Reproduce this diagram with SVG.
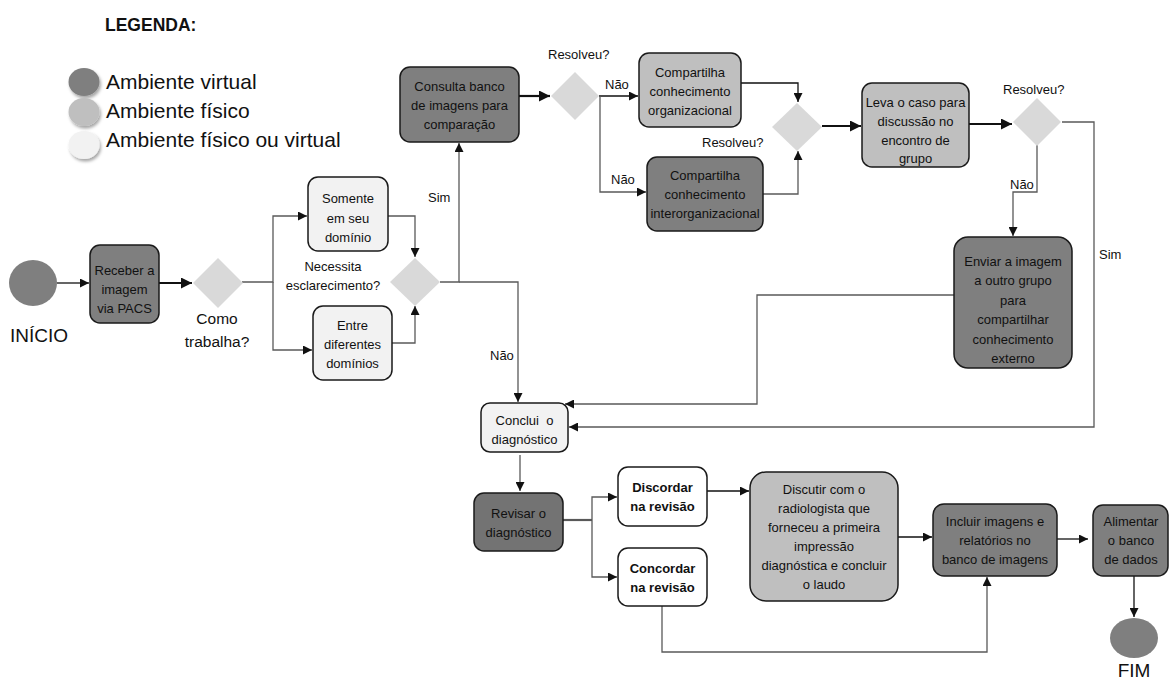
<svg xmlns="http://www.w3.org/2000/svg" width="1169" height="682" viewBox="0 0 1169 682">
<style>
text{font-family:"Liberation Sans",Arial,sans-serif;fill:#111;}
.t{font-size:13px;text-anchor:middle;}
.tb{font-size:13px;text-anchor:middle;font-weight:bold;}
.lab{font-size:13px;}
.leg{font-size:21px;}
.box{stroke:#1a1a1a;stroke-width:1.5;}
.dk{fill:#7f7f7f;}
.md{fill:#bfbfbf;}
.lt{fill:#f2f2f2;}
.wh{fill:#ffffff;}
.dia{fill:#d9d9d9;}
.c{fill:none;stroke:#595959;stroke-width:1.3;}
.cb{fill:none;stroke:#111;stroke-width:1.3;}
.ct{fill:none;stroke:#111;stroke-width:2.2;}
.cg{fill:none;stroke:#595959;stroke-width:2.2;}
</style>
<defs>
<marker id="ar" viewBox="0 0 10 10" refX="10" refY="5" markerWidth="9" markerHeight="9" markerUnits="userSpaceOnUse" orient="auto"><path d="M0,0 L10,5 L0,10 z" fill="#111"/></marker>
<marker id="arL" viewBox="0 0 10 10" refX="10" refY="5" markerWidth="11" markerHeight="11" markerUnits="userSpaceOnUse" orient="auto"><path d="M0,0 L10,5 L0,10 z" fill="#111"/></marker>
<filter id="sh" x="-30%" y="-30%" width="170%" height="170%"><feDropShadow dx="1.5" dy="2.5" stdDeviation="1.5" flood-color="#000" flood-opacity="0.35"/></filter>
</defs>

<g id="legend">
<text x="105" y="31" style="font-size:17.5px;font-weight:bold">LEGENDA:</text>
<ellipse cx="84" cy="82" rx="15.5" ry="14" fill="#7f7f7f" filter="url(#sh)"/>
<ellipse cx="84" cy="112" rx="15.5" ry="14" fill="#bfbfbf" filter="url(#sh)"/>
<ellipse cx="84" cy="145" rx="15.5" ry="14" fill="#f2f2f2" filter="url(#sh)"/>
<text class="leg" x="106" y="89">Ambiente virtual</text>
<text class="leg" x="106" y="118">Ambiente físico</text>
<text class="leg" x="106" y="147">Ambiente físico ou virtual</text>
</g>

<g id="connectors">
<path class="cb" d="M57,283 H89" marker-end="url(#ar)"/>
<path class="ct" d="M159,283 H192" marker-end="url(#arL)"/>
<path class="c" d="M242,282 H273 V216 H307" marker-end="url(#ar)"/>
<path class="c" d="M273,282 V350 H312" marker-end="url(#ar)"/>
<path class="c" d="M388,216 H415 V257" marker-end="url(#ar)"/>
<path class="c" d="M392,343 H415 V306" marker-end="url(#ar)"/>
<path class="c" d="M440,282 H459 V143" marker-end="url(#ar)"/>
<path class="c" d="M459,282 H518 V402" marker-end="url(#ar)"/>
<path class="ct" d="M519,96 H550" marker-end="url(#arL)"/>
<path class="cb" d="M599,96 H638" marker-end="url(#ar)"/>
<path class="c" d="M600,96 V192 H646" marker-end="url(#ar)"/>
<path class="cb" d="M741,83 H798 V102" marker-end="url(#ar)"/>
<path class="c" d="M763,194 H798 V151" marker-end="url(#ar)"/>
<path class="ct" d="M822,126 H861" marker-end="url(#arL)"/>
<path class="ct" d="M969,124 H1012" marker-end="url(#arL)"/>
<path class="c" d="M1037,145 V192 H1013 V236" marker-end="url(#ar)"/>
<path class="c" d="M1062,122 H1094 V427 H569" marker-end="url(#ar)"/>
<path class="c" d="M954,295 H757 V404 H565" marker-end="url(#ar)"/>
<path class="c" d="M520,455 V491" marker-end="url(#ar)"/>
<path class="cg" d="M563,520 H592"/>
<path class="c" d="M592,520 V497 H617" marker-end="url(#ar)"/>
<path class="c" d="M592,520 V577 H617" marker-end="url(#ar)"/>
<path class="cb" d="M707,491 H749" marker-end="url(#ar)"/>
<path class="c" d="M662,606 V652 H987 V577" marker-end="url(#ar)"/>
<path class="cb" d="M898,537 H932" marker-end="url(#ar)"/>
<path class="cb" d="M1057,539 H1088" marker-end="url(#ar)"/>
<path class="cb" d="M1134,576 V617" marker-end="url(#ar)"/>
<text class="lab" x="428" y="202">Sim</text>
<text class="lab" x="490" y="360">Não</text>
<text class="lab" x="605" y="89">Não</text>
<text class="lab" x="611" y="184">Não</text>
<text class="lab" x="1010" y="189">Não</text>
<text class="lab" x="1099" y="259">Sim</text>
</g>

<g id="inicio">
<ellipse cx="33" cy="283" rx="24" ry="23" fill="#7f7f7f"/>
<text x="10" y="342" style="font-size:19px">INÍCIO</text>
</g>

<g id="receber">
<rect class="box dk" x="90" y="245" width="69" height="78" rx="10"/>
<text class="t" x="124.5" y="275">Receber a</text>
<text class="t" x="124.5" y="294">imagem</text>
<text class="t" x="124.5" y="313">via PACS</text>
</g>

<g id="como-trabalha">
<polygon class="dia" points="218,258 243,283 218,308 193,283"/>
<text x="217" y="324" style="font-size:15.5px;text-anchor:middle">Como</text>
<text x="217" y="347" style="font-size:15.5px;text-anchor:middle">trabalha?</text>
</g>

<g id="somente">
<rect class="box lt" x="308" y="177" width="80" height="74" rx="10"/>
<text class="t" x="348" y="203">Somente</text>
<text class="t" x="348" y="223">em seu</text>
<text class="t" x="348" y="242">domínio</text>
</g>

<g id="entre">
<rect class="box lt" x="313" y="306" width="79" height="74" rx="10"/>
<text class="t" x="352.5" y="330">Entre</text>
<text class="t" x="352.5" y="349">diferentes</text>
<text class="t" x="352.5" y="368">domínios</text>
</g>

<g id="necessita">
<polygon class="dia" points="415,258 440,282 415,306 390,282"/>
<text class="t" x="333" y="271">Necessita</text>
<text class="t" x="333" y="290">esclarecimento?</text>
</g>

<g id="consulta">
<rect class="box dk" x="400" y="67" width="119" height="75" rx="10"/>
<text class="t" x="459.5" y="91">Consulta banco</text>
<text class="t" x="459.5" y="110">de imagens para</text>
<text class="t" x="459.5" y="129">comparação</text>
</g>

<g id="resolveu1">
<polygon class="dia" points="575,72 599,96 575,120 551,96"/>
<text class="lab" x="548" y="59">Resolveu?</text>
</g>

<g id="comp-org">
<rect class="box md" x="639" y="53" width="102" height="74" rx="10"/>
<text class="t" x="690" y="77">Compartilha</text>
<text class="t" x="690" y="96">conhecimento</text>
<text class="t" x="690" y="115">organizacional</text>
</g>

<g id="comp-interorg">
<rect class="box dk" x="647" y="157" width="116" height="74" rx="10"/>
<text class="t" x="705" y="180">Compartilha</text>
<text class="t" x="705" y="199">conhecimento</text>
<text class="t" x="705" y="218">interorganizacional</text>
</g>

<g id="resolveu2">
<polygon class="dia" points="797,103 822,127 797,151 772,127"/>
<text class="lab" x="702" y="147">Resolveu?</text>
</g>

<g id="leva">
<rect class="box md" x="862" y="83" width="107" height="84" rx="10"/>
<text class="t" x="915.5" y="107">Leva o caso para</text>
<text class="t" x="915.5" y="126">discussão no</text>
<text class="t" x="915.5" y="145">encontro de</text>
<text class="t" x="915.5" y="163">grupo</text>
</g>

<g id="resolveu3">
<polygon class="dia" points="1037,98 1061,122 1037,146 1013,122"/>
<text class="lab" x="1003" y="94">Resolveu?</text>
</g>

<g id="enviar">
<rect class="box dk" x="954" y="237" width="118" height="131" rx="14"/>
<text class="t" x="1013" y="266">Enviar a imagem</text>
<text class="t" x="1013" y="285">a outro grupo</text>
<text class="t" x="1013" y="305">para</text>
<text class="t" x="1013" y="324">compartilhar</text>
<text class="t" x="1013" y="344">conhecimento</text>
<text class="t" x="1013" y="363">externo</text>
</g>

<g id="conclui">
<rect class="box lt" x="481" y="403" width="87" height="49" rx="9"/>
<text class="t" x="524.5" y="425" xml:space="preserve">Conclui  o</text>
<text class="t" x="524.5" y="444">diagnóstico</text>
</g>

<g id="revisar">
<rect class="box dk" x="474" y="493" width="89" height="58" rx="10" style="fill:#737373"/>
<text class="t" x="518.5" y="518">Revisar o</text>
<text class="t" x="518.5" y="537">diagnóstico</text>
</g>

<g id="discordar">
<rect class="box wh" x="618" y="467" width="89" height="59" rx="10"/>
<text class="tb" x="662.5" y="492">Discordar</text>
<text class="tb" x="662.5" y="511">na revisão</text>
</g>

<g id="concordar">
<rect class="box wh" x="618" y="548" width="89" height="58" rx="10"/>
<text class="tb" x="662.5" y="573">Concordar</text>
<text class="tb" x="662.5" y="592">na revisão</text>
</g>

<g id="discutir">
<rect class="box md" x="750" y="472" width="148" height="129" rx="16"/>
<text class="t" x="824" y="494">Discutir com o</text>
<text class="t" x="824" y="513">radiologista que</text>
<text class="t" x="824" y="532">forneceu a primeira</text>
<text class="t" x="824" y="551">impressão</text>
<text class="t" x="824" y="570">diagnóstica e concluir</text>
<text class="t" x="824" y="589">o laudo</text>
</g>

<g id="incluir">
<rect class="box dk" x="933" y="504" width="124" height="72" rx="11"/>
<text class="t" x="995" y="526">Incluir imagens e</text>
<text class="t" x="995" y="545">relatórios no</text>
<text class="t" x="995" y="564">banco de imagens</text>
</g>

<g id="alimentar">
<rect class="box dk" x="1093" y="505" width="75" height="71" rx="10"/>
<text class="t" x="1131" y="526">Alimentar</text>
<text class="t" x="1131" y="545">o banco</text>
<text class="t" x="1131" y="564">de dados</text>
</g>

<g id="fim">
<ellipse cx="1134" cy="638" rx="24" ry="20" fill="#7f7f7f"/>
<text x="1134" y="677" style="font-size:19px;text-anchor:middle">FIM</text>
</g>
</svg>
